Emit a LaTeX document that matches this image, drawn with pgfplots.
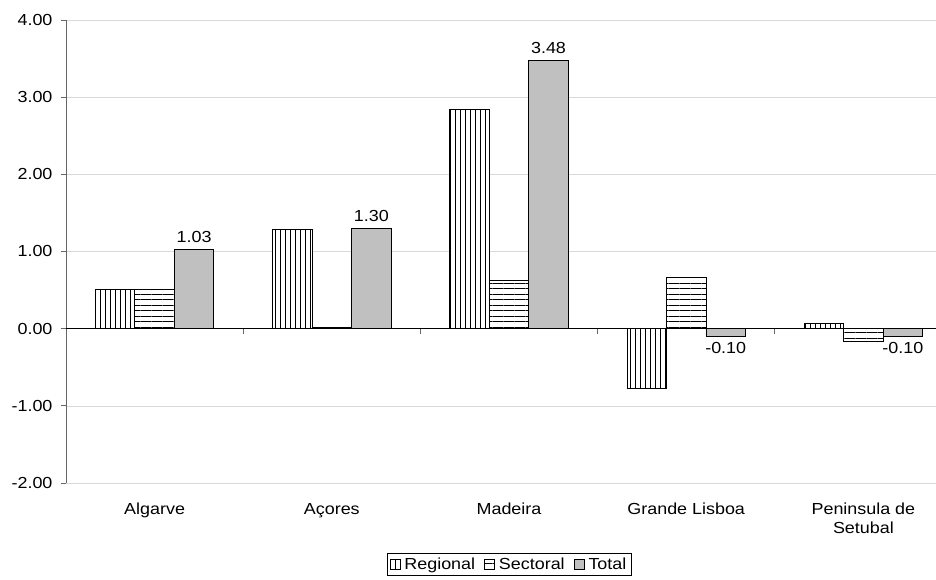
\documentclass[border=0pt]{standalone}
\usepackage{fontspec}
\setmainfont[FakeStretch=1.12]{Liberation Sans}
\usepackage{pgfplots}
\pgfplotsset{compat=1.18}
\usetikzlibrary{patterns.meta}

% Decomposition by region: regional, sectoral and total effects
\pgfplotstableread{
x regional sectoral total
0  0.51  0.51  1.03
1  1.29  0.01  1.30
2  2.84  0.63  3.48
3 -0.77  0.67 -0.10
4  0.07 -0.165 -0.10
}\effects

\definecolor{totalgray}{RGB}{192,192,192}
\newcommand{\chartfont}{\fontsize{16}{19.5}\selectfont}
\pgfplotsset{
  boxlegend/.style={
    legend image code/.code={\draw[##1] (0pt,-5pt) rectangle (10pt,5pt);}
  },
}

\begin{document}
\begin{tikzpicture}
\begin{axis}[
  name=ax,
  scale only axis,
  width=886pt, height=463pt,
  xmin=-0.5, xmax=4.5,
  ymin=-2, ymax=4,
  axis lines*=left,
  x axis line style={draw=none},
  y axis line style={draw=black!60, line width=0.8pt},
  tick align=outside,
  major tick length=5pt,
  y tick style={draw=black!60, line width=0.8pt},
  x tick style={draw=none},
  ytick={-2,-1,0,1,2,3,4},
  /pgf/number format/assume math mode=true,
  tick label style={font=\chartfont},
  y tick label style={xshift=-5pt},
  yticklabel={\pgfmathprintnumber[fixed,fixed zerofill,precision=2]{\tick}},
  xtick={0,1,2,3,4},
  xticklabels={Algarve, Açores, Madeira, Grande Lisboa, {Peninsula de\\Setubal}},
  x tick label style={align=center, anchor=north, yshift=-9pt},
  typeset ticklabels with strut,
  ymajorgrids,
  grid style={draw=black!15, line width=0.6pt},
  ybar=0pt,
  bar width=39.5pt,
  legend style={
    at={(0.5,-0.1505)}, anchor=north,
    legend columns=-1,
    draw=black, line width=0.6pt,
    inner sep=2.5pt,
    font=\chartfont,
    /tikz/every even column/.append style={column sep=7pt},
    /tikz/every odd column/.append style={column sep=2pt},
  },
]
\addplot[draw=black, line width=0.8pt, fill=white,
  postaction={pattern={Lines[angle=90,distance=5pt,line width=0.8pt]}},
  boxlegend]
  table[x=x, y=regional] {\effects};
\addlegendentry{Regional}
\addplot[draw=black, line width=0.8pt, fill=white,
  postaction={pattern={Lines[angle=0,distance=5.5pt,line width=0.8pt]}},
  boxlegend]
  table[x=x, y=sectoral] {\effects};
\addlegendentry{Sectoral}
\addplot[draw=black, line width=0.8pt, fill=totalgray,
  nodes near coords,
  nodes near coords style={font=\chartfont, text=black, inner sep=6pt},
  /pgf/number format/fixed,
  /pgf/number format/fixed zerofill,
  /pgf/number format/precision=2,
  boxlegend]
  table[x=x, y=total] {\effects};
\addlegendentry{Total}
% zero line and category separators
\draw[black, line width=0.9pt] (axis cs:-0.5,0) -- (axis cs:4.5,0);
\draw[black!60, line width=0.8pt] (axis cs:0.5,0) -- ([yshift=-5pt]axis cs:0.5,0);
\draw[black!60, line width=0.8pt] (axis cs:1.5,0) -- ([yshift=-5pt]axis cs:1.5,0);
\draw[black!60, line width=0.8pt] (axis cs:2.5,0) -- ([yshift=-5pt]axis cs:2.5,0);
\draw[black!60, line width=0.8pt] (axis cs:3.5,0) -- ([yshift=-5pt]axis cs:3.5,0);
\end{axis}
\pgfresetboundingbox
\useasboundingbox ([xshift=-66pt,yshift=-97pt]ax.south west) rectangle ([xshift=870pt,yshift=20pt]ax.north west);
\end{tikzpicture}
\end{document}
